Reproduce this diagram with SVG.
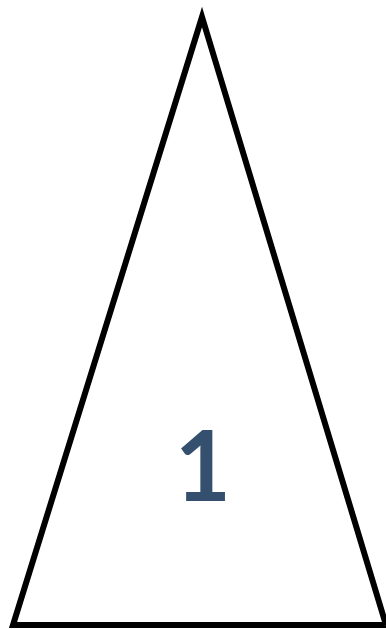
<svg xmlns="http://www.w3.org/2000/svg" width="386" height="629" viewBox="0 0 386 629">
<style>
.tri{fill:#fff;stroke:#000;stroke-width:6;stroke-linejoin:miter;stroke-miterlimit:20}
.lbl{font-family:Lato,"Open Sans",sans-serif;font-weight:bold;font-size:97px;fill:#35506F;text-anchor:middle}
</style>
<rect width="386" height="629" fill="#fff"/>
<g id="triangle">
<polygon class="tri" points="202,17 13,625 386,625"/>
<text class="lbl" x="203" y="501">1</text>
</g>
</svg>
